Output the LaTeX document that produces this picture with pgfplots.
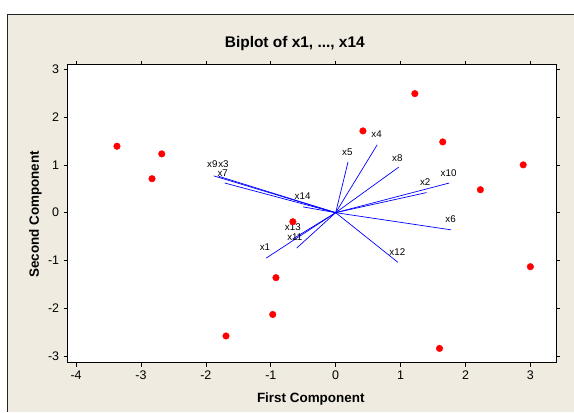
\documentclass[border=0pt]{standalone}
\usepackage{fontspec}
\setmainfont{Liberation Sans}
\usepackage{pgfplots}
\pgfplotsset{compat=1.18}
\definecolor{bgbeige}{RGB}{239,235,225}
\definecolor{ptred}{RGB}{255,0,0}
\definecolor{vecblue}{RGB}{0,0,255}
\begin{document}
\begin{tikzpicture}[x=1bp,y=1bp]
\fill[white] (0,0) rectangle (574,412);
\fill[bgbeige] (7.5,0) rectangle (574,397.7);
\draw[black!85, line width=0.8bp] (7.5,0) -- (7.5,397.7) -- (574,397.7);
\begin{axis}[
  at={(67.7bp,49bp)}, anchor=south west,
  scale only axis, width=489bp, height=298bp,
  xmin=-4.13, xmax=3.40, ymin=-3.14, ymax=3.09,
  xtick={-4,-3,-2,-1,0,1,2,3}, ytick={-3,-2,-1,0,1,2,3},
  tick align=outside, major tick length=4bp,
  tick style={black, line width=0.6bp},
  axis line style={black, line width=1bp},
  axis background/.style={fill=white},
  /pgf/number format/assume math mode=true,
  tick label style={font=\fontsize{12.5}{14}\selectfont},
  xticklabel style={yshift=-1bp},
  yticklabel style={xshift=-1bp},
  clip=false,
]
% observations
\addplot[only marks, mark=*, mark size=3.3bp, color=ptred, mark options={draw=ptred, fill=ptred}] coordinates {
(-3.37,1.39) (-2.68,1.23) (-2.83,0.71) (1.22,2.49) (0.42,1.71) (1.65,1.48)
(2.89,1.00) (2.23,0.48) (-0.66,-0.19) (-0.92,-1.36) (-0.97,-2.13)
(-1.69,-2.58) (1.60,-2.84) (3.00,-1.13)
};
% loading vectors
\addplot[vecblue, line width=0.7bp] coordinates {(0,0) (-1.07,-0.95)}; % x1
\addplot[vecblue, line width=0.7bp] coordinates {(0,0) (1.40,0.42)};   % x2
\addplot[vecblue, line width=0.7bp] coordinates {(0,0) (-1.80,0.76)};  % x3
\addplot[vecblue, line width=0.7bp] coordinates {(0,0) (0.64,1.42)};   % x4
\addplot[vecblue, line width=0.7bp] coordinates {(0,0) (0.19,1.06)};   % x5
\addplot[vecblue, line width=0.7bp] coordinates {(0,0) (1.78,-0.36)};  % x6
\addplot[vecblue, line width=0.7bp] coordinates {(0,0) (-1.71,0.62)};  % x7
\addplot[vecblue, line width=0.7bp] coordinates {(0,0) (0.97,0.95)};   % x8
\addplot[vecblue, line width=0.7bp] coordinates {(0,0) (-1.88,0.77)};  % x9
\addplot[vecblue, line width=0.7bp] coordinates {(0,0) (1.75,0.62)};   % x10
\addplot[vecblue, line width=0.7bp] coordinates {(0,0) (-0.60,-0.74)}; % x11
\addplot[vecblue, line width=0.7bp] coordinates {(0,0) (0.96,-1.04)};  % x12
\addplot[vecblue, line width=0.7bp] coordinates {(0,0) (-0.66,-0.55)}; % x13
\addplot[vecblue, line width=0.7bp] coordinates {(0,0) (-0.50,0.12)};  % x14
% vector labels
\begin{scope}[every node/.style={font=\fontsize{9.8}{11}\selectfont, inner sep=0pt}]
\node at (axis cs:-1.09,-0.73) {x1};
\node at (axis cs:1.38,0.64) {x2};
\node at (axis cs:-1.73,1.02) {x3};
\node at (axis cs:0.63,1.64) {x4};
\node at (axis cs:0.18,1.27) {x5};
\node at (axis cs:1.77,-0.13) {x6};
\node at (axis cs:-1.74,0.83) {x7};
\node at (axis cs:0.95,1.14) {x8};
\node at (axis cs:-1.90,1.02) {x9};
\node at (axis cs:1.74,0.83) {x10};
\node at (axis cs:-0.63,-0.51) {x11};
\node at (axis cs:0.95,-0.82) {x12};
\node at (axis cs:-0.66,-0.30) {x13};
\node at (axis cs:-0.51,0.35) {x14};
\end{scope}
\end{axis}
\node[anchor=base, font=\bfseries\fontsize{15.5}{18}\selectfont, inner sep=0pt] at (295,364.3) {Biplot of x1, ..., x14};
\node[anchor=base, font=\bfseries\fontsize{13.5}{16}\selectfont, inner sep=0pt] at (311,9.7) {First Component};
\node[anchor=base, rotate=90, font=\bfseries\fontsize{13.5}{16}\selectfont, inner sep=0pt] at (39,197.5) {Second Component};
\end{tikzpicture}
\end{document}
